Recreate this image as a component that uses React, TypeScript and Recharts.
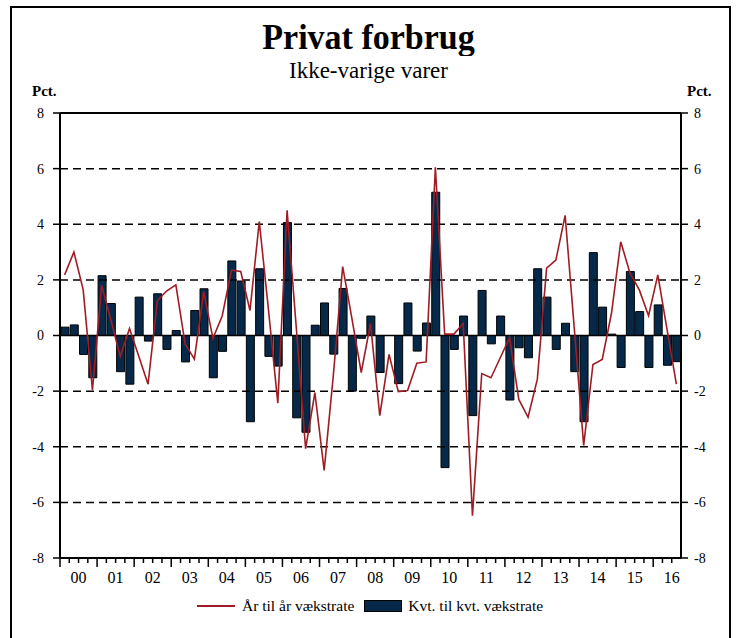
import { Bar, ComposedChart, Line, ReferenceLine, XAxis, YAxis } from 'recharts';

const years = ['00', '01', '02', '03', '04', '05', '06', '07', '08', '09', '10', '11', '12', '13', '14', '15', '16'];
const quartersPerYear = ['1', '2', '3', '4'];
const lastYearQuarters = ['1', '2', '3'];

// kvartal til kvartal (søjler)
const qoq = [
  0.3, 0.38, -0.68, -1.52,
  2.15, 1.15, -1.3, -1.75,
  1.38, -0.2, 1.5, -0.5,
  0.18, -0.95, 0.9, 1.68,
  -1.52, -0.57, 2.68, 1.96,
  -3.1, 2.4, -0.75, -1.1,
  4.06, -2.96, -3.48, 0.37,
  1.17, -0.67, 1.69, -2.0,
  -0.1, 0.7, -1.33, 0.0,
  -1.73, 1.17, -0.56, 0.45,
  5.15, -4.75, -0.5, 0.7,
  -2.88, 1.62, -0.3, 0.7,
  -2.32, -0.44, -0.8, 2.4,
  1.38, -0.5, 0.44, -1.3,
  -3.1, 2.98, 1.02, 0.05,
  -1.15, 2.3, 0.86, -1.15,
  1.1, -1.07, -0.94,
];

// år til år (linje)
const yoy = [
  2.18, 3.0, 1.65, -1.96,
  1.8, 0.55, -0.75, 0.25,
  -0.75, -1.75, 1.25, 1.6,
  1.82, -0.3, -0.85, 1.58,
  -0.1, 0.7, 2.35, 2.3,
  0.9, 4.1, 0.9, -2.43,
  4.5, 0.25, -4.07, -2.05,
  -4.85, -1.4, 2.48, 0.6,
  -1.33, 0.43, -2.88, -0.68,
  -2.02, -1.98, -1.0, -0.95,
  6.05, 0.05, 0.05, 0.43,
  -6.48, -1.37, -1.52, -0.8,
  -0.08, -2.3, -2.94, -1.57,
  2.42, 2.71, 4.32, 0.2,
  -3.95, -1.04, -0.86, 0.8,
  3.37, 2.24, 1.64, 0.71,
  2.18, 0.2, -1.75,
];

const yTicks = [-8, -6, -4, -2, 0, 2, 4, 6, 8];
const dashedLevels = [-6, -4, -2, 2, 4, 6];

const quarters = years.flatMap((y, i) =>
  (i === years.length - 1 ? lastYearQuarters : quartersPerYear).map((q) => `${y}K${q}`),
);
const data = quarters.map((q, i) => ({ q, qoq: qoq[i], yoy: yoy[i] }));

const FONT = '"Liberation Serif", "DejaVu Serif", serif';
const BAR_COLOR = '#06294a';
const LINE_COLOR = '#a01c24';
const PLOT_W = 737 - 60 - 56;
const BW = PLOT_W / quarters.length;

function QuarterTick(props: any) {
  const { x, y, payload } = props;
  const v: string = payload.value;
  const q = v.slice(3);
  const left = x - BW / 2;
  return (
    <g>
      <line x1={left} x2={left} y1={y} y2={y + (q === '1' ? 9 : 5)} stroke="#000" strokeWidth={1.5} />
      {q === '2' && (
        <text
          x={x + BW / 2}
          y={y + 25}
          textAnchor="middle"
          fontSize={16}
          fill="#000"
          style={{ fontFamily: FONT }}
        >
          {v.slice(0, 2)}
        </text>
      )}
    </g>
  );
}

export default function App() {
  return (
    <div
      style={{
        position: 'absolute',
        left: 0,
        top: 0,
        width: 737,
        height: 638,
        overflow: 'hidden',
        background: '#fff',
        fontFamily: FONT,
        color: '#000',
      }}
    >
      <div
        style={{
          position: 'absolute',
          left: 10,
          top: 6,
          width: 717,
          height: 700,
          border: '2px solid #000',
        }}
      />
      <div
        style={{
          position: 'absolute',
          top: 21,
          left: 0,
          width: 737,
          textAlign: 'center',
          fontWeight: 'bold',
          fontSize: 34,
          lineHeight: '32px',
          transform: 'scaleY(1.05)',
        }}
      >
        Privat forbrug
      </div>
      <div
        style={{
          position: 'absolute',
          top: 60,
          left: 0,
          width: 737,
          textAlign: 'center',
          fontSize: 23,
          lineHeight: '22px',
        }}
      >
        Ikke-varige varer
      </div>
      <div style={{ position: 'absolute', top: 83, left: 32, fontSize: 15, fontWeight: 'bold' }}>Pct.</div>
      <div style={{ position: 'absolute', top: 83, left: 687, fontSize: 15, fontWeight: 'bold' }}>Pct.</div>
      <ComposedChart
        width={737}
        height={638}
        data={data}
        margin={{ top: 113, right: 0, bottom: 0, left: 0 }}
        barSize={8}
        style={{ position: 'absolute', left: 0, top: 0, fontFamily: FONT }}
      >
        <XAxis
          dataKey="q"
          interval={0}
          height={80}
          tickLine={false}
          tickSize={0}
          tickMargin={0}
          axisLine={{ stroke: '#000', strokeWidth: 2 }}
          tick={<QuarterTick />}
        />
        <YAxis
          yAxisId="left"
          width={60}
          domain={[-8, 8]}
          ticks={yTicks}
          interval={0}
          tickSize={7}
          tickMargin={9}
          allowDataOverflow
          axisLine={{ stroke: '#000', strokeWidth: 2 }}
          tickLine={{ stroke: '#000', strokeWidth: 1.5 }}
          tick={{ fill: '#000', fontSize: 14, style: { fontFamily: FONT } }}
        />
        <YAxis
          yAxisId="right"
          orientation="right"
          width={56}
          domain={[-8, 8]}
          ticks={yTicks}
          interval={0}
          tickSize={7}
          tickMargin={6}
          allowDataOverflow
          axisLine={{ stroke: '#000', strokeWidth: 2 }}
          tickLine={{ stroke: '#000', strokeWidth: 1.5 }}
          tick={{ fill: '#000', fontSize: 14, style: { fontFamily: FONT } }}
        />
        {dashedLevels.map((v) => (
          <ReferenceLine key={v} yAxisId="left" y={v} stroke="#000" strokeWidth={1.5} strokeDasharray="8 5" />
        ))}
        <ReferenceLine yAxisId="left" y={8} stroke="#000" strokeWidth={2} />
        <Bar yAxisId="left" dataKey="qoq" fill={BAR_COLOR} stroke="#000" strokeWidth={1} isAnimationActive={false} />
        <ReferenceLine yAxisId="left" y={0} stroke="#000" strokeWidth={1.5} />
        <Line
          yAxisId="right"
          dataKey="yoy"
          type="linear"
          stroke={LINE_COLOR}
          strokeWidth={1.6}
          dot={false}
          isAnimationActive={false}
        />
      </ComposedChart>
      <div
        style={{
          position: 'absolute',
          top: 597,
          left: 197,
          display: 'flex',
          alignItems: 'center',
          fontSize: 15.5,
          lineHeight: '18px',
        }}
      >
        <span style={{ display: 'inline-block', width: 38, height: 2, background: LINE_COLOR }} />
        <span style={{ marginLeft: 7 }}>År til år vækstrate</span>
        <span
          style={{
            display: 'inline-block',
            width: 36,
            height: 10,
            background: BAR_COLOR,
            border: '1px solid #000',
            marginLeft: 10,
          }}
        />
        <span style={{ marginLeft: 6 }}>Kvt. til kvt. vækstrate</span>
      </div>
    </div>
  );
}
